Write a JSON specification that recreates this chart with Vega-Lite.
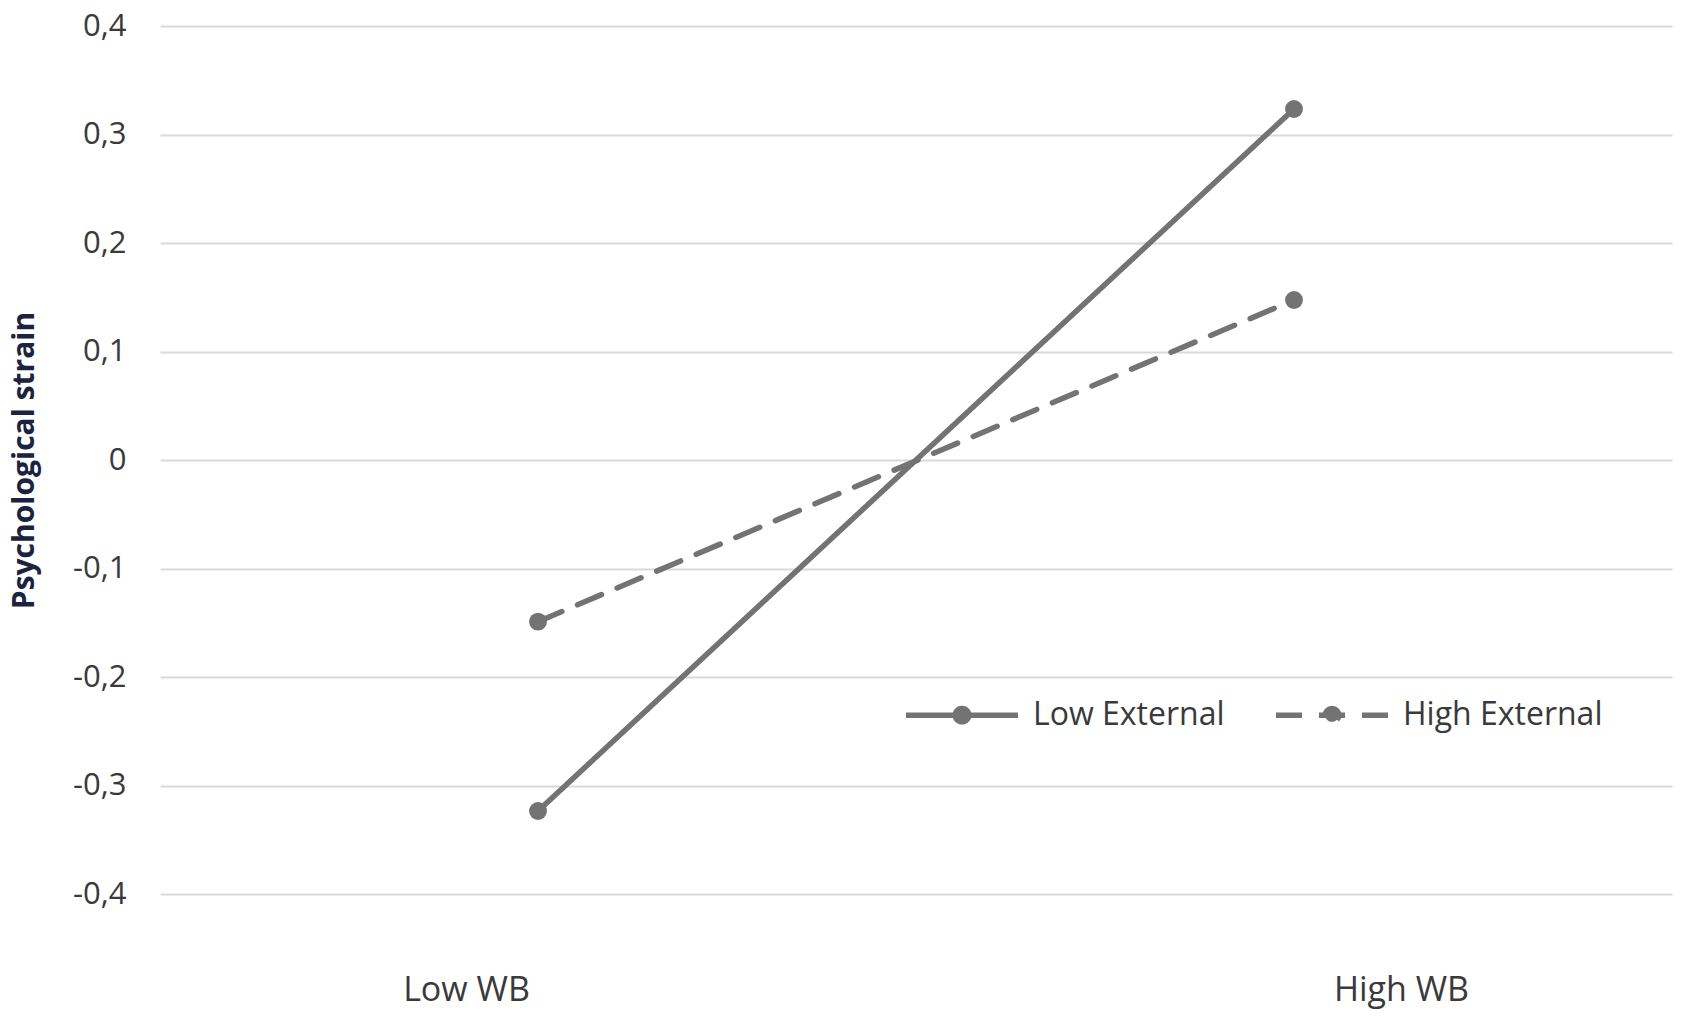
{
  "$schema": "https://vega.github.io/schema/vega-lite/v6.json",
  "width": 1512,
  "height": 868,
  "autosize": "none",
  "padding": {"left": 160, "top": 26, "right": 30, "bottom": 137},
  "background": "white",
  "data": {
    "values": [
      {"wb": "Low WB", "group": "Low External", "strain": -0.3235},
      {"wb": "High WB", "group": "Low External", "strain": 0.3235},
      {"wb": "Low WB", "group": "High External", "strain": -0.149},
      {"wb": "High WB", "group": "High External", "strain": 0.1475}
    ]
  },
  "encoding": {
    "x": {
      "field": "wb",
      "type": "nominal",
      "sort": ["Low WB", "High WB"],
      "scale": {"type": "point", "padding": 0.5},
      "axis": {
        "title": null,
        "labelAngle": 0,
        "domain": false,
        "ticks": false,
        "grid": false,
        "labelFont": "Open Sans",
        "labelFontSize": 34,
        "labelColor": "#3a3a3a",
        "labelPadding": 79,
        "labelBaseline": "top",
        "labelOffset": {"condition": {"test": "datum.value === 'Low WB'", "value": -72}, "value": 107}
      }
    },
    "y": {
      "field": "strain",
      "type": "quantitative",
      "scale": {"domain": [-0.4, 0.4], "nice": false, "zero": false},
      "axis": {
        "title": "Psychological  strain",
        "titleFont": "Open Sans",
        "titleFontSize": 30,
        "titleFontWeight": "bold",
        "titleColor": "#1a2440",
        "titlePadding": 33,
        "values": [-0.4, -0.3, -0.2, -0.1, 0, 0.1, 0.2, 0.3, 0.4],
        "labelExpr": "datum.value == 0 ? '0' : (datum.value < 0 ? '-' : '') + replace(format(abs(datum.value), '.1f'), '.', ',')",
        "labelFont": "Open Sans",
        "labelFontSize": 31,
        "labelColor": "#3a3a3a",
        "labelPadding": 34,
        "labelDy": -4,
        "domain": false,
        "ticks": false,
        "grid": true,
        "gridColor": "#d9d9d9",
        "gridWidth": 2
      }
    }
  },
  "layer": [
    {
      "mark": {"type": "line", "color": "#737373", "strokeWidth": 5.5, "strokeCap": "round"},
      "encoding": {
        "strokeDash": {
          "field": "group",
          "type": "nominal",
          "scale": {"domain": ["Low External", "High External"], "range": [[1, 0], [26, 17]]},
          "legend": {
            "title": null,
            "orient": "none",
            "legendX": 743,
            "legendY": 630,
            "direction": "horizontal",
            "labelFont": "Open Sans",
            "labelFontSize": 32,
            "labelColor": "#3a3a3a",
            "labelLimit": 500,
            "labelOffset": 12,
            "columnPadding": 40,
            "symbolSize": 12544,
            "symbolType": "M-1,0 L1,0 M-0.12,0 A0.12,0.12 0 1,1 0.12,0 A0.12,0.12 0 1,1 -0.12,0 Z",
            "symbolStrokeWidth": 5.5,
            "symbolStrokeColor": "#737373",
            "symbolFillColor": "#737373",
            "symbolOpacity": 1
          }
        }
      }
    },
    {
      "mark": {"type": "point", "filled": true, "shape": "circle", "size": 320, "color": "#737373", "opacity": 1},
      "encoding": {"detail": {"field": "group", "type": "nominal"}}
    }
  ],
  "config": {"view": {"stroke": null}}
}
